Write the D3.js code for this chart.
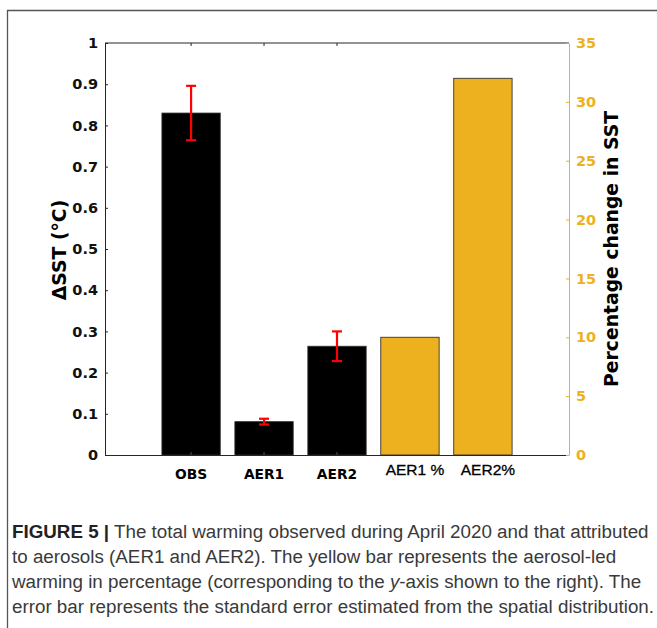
<!DOCTYPE html>
<html>
<head>
<meta charset="utf-8">
<script src="https://cdn.jsdelivr.net/npm/d3@7"></script>
<style>
  html, body { margin: 0; padding: 0; background: #fff; }
  svg { display: block; }
</style>
</head>
<body>
<div id="chart"></div>
<script>
// ---- data ----
const categories = ["OBS", "AER1", "AER2", "AER1 %", "AER2%"];
const sstCategories = ["OBS", "AER1", "AER2"];
const sstValues = [0.83, 0.081, 0.264];
const sstErrors = [0.066, 0.007, 0.036];
const pctCategories = ["AER1 %", "AER2%"];
const pctValues = [10.0, 32.0];
const leftTicks = [0, 0.1, 0.2, 0.3, 0.4, 0.5, 0.6, 0.7, 0.8, 0.9, 1];
const leftTickLabels = ["0", "0.1", "0.2", "0.3", "0.4", "0.5", "0.6", "0.7", "0.8", "0.9", "1"];
const rightTicks = [0, 5, 10, 15, 20, 25, 30, 35];
const leftLabel = "ΔSST (°C)";
const rightLabel = "Percentage change in SST";
const captionBold = "FIGURE 5 |";
const captionLines = [
  " The total warming observed during April 2020 and that attributed",
  "to aerosols (AER1 and AER2). The yellow bar represents the aerosol-led",
  ["warming in percentage (corresponding to the ", "y", "-axis shown to the right). The"],
  "error bar represents the standard error estimated from the spatial distribution."
];

// ---- layout ----
const W = 657, H = 628;
const plot = { left: 105, right: 569, top: 43, bottom: 455 };
const yellow = "#EDB120";
const axisCol = "#262626";

const svg = d3.select("#chart").append("svg").attr("width", W).attr("height", H);

// outer frame (extends beyond right & bottom)
svg.append("path")
  .attr("d", `M${W + 5},10.5 H7.5 V${H + 5}`)
  .attr("fill", "none").attr("stroke", "#555").attr("stroke-width", 1.3);

const x = d3.scaleBand().domain(categories)
  .range([plot.left, plot.right]).paddingInner(0.2).paddingOuter(0.78);
const yL = d3.scaleLinear().domain([0, 1]).range([plot.bottom, plot.top]);
const yR = d3.scaleLinear().domain([0, 35]).range([plot.bottom, plot.top]);

const g = svg.append("g");

// black bars
g.selectAll("rect.sst").data(sstValues).join("rect")
  .attr("class", "sst")
  .attr("x", (d, i) => x(sstCategories[i]))
  .attr("width", x.bandwidth())
  .attr("y", d => yL(d))
  .attr("height", d => yL(0) - yL(d))
  .attr("fill", "#000").attr("stroke", "#333").attr("stroke-width", 0.8);

// yellow bars
g.selectAll("rect.pct").data(pctValues).join("rect")
  .attr("class", "pct")
  .attr("x", (d, i) => x(pctCategories[i]))
  .attr("width", x.bandwidth())
  .attr("y", d => yR(d))
  .attr("height", d => yR(0) - yR(d))
  .attr("fill", yellow).attr("stroke", "#333").attr("stroke-width", 0.9);

// error bars
const eb = g.selectAll("g.err").data(sstValues).join("g").attr("class", "err")
  .attr("stroke", "#ff0000").attr("stroke-width", 2.2).attr("fill", "none");
eb.each(function (d, i) {
  const cx = x(sstCategories[i]) + x.bandwidth() / 2;
  const e = sstErrors[i];
  const s = d3.select(this);
  s.append("line").attr("x1", cx).attr("x2", cx).attr("y1", yL(d - e)).attr("y2", yL(d + e));
  s.append("line").attr("x1", cx - 5).attr("x2", cx + 5).attr("y1", yL(d - e)).attr("y2", yL(d - e));
  s.append("line").attr("x1", cx - 5).attr("x2", cx + 5).attr("y1", yL(d + e)).attr("y2", yL(d + e));
});

// box: top line
svg.append("line").attr("x1", plot.left).attr("x2", plot.right).attr("y1", plot.top).attr("y2", plot.top)
  .attr("stroke", axisCol).attr("stroke-width", 1);

// bottom axis (ticks at the first three categories, inward)
const xAxis = d3.axisBottom(x).tickValues(sstCategories).tickSize(-3).tickSizeOuter(0).tickFormat("");
svg.append("g").attr("transform", `translate(0,${plot.bottom})`).call(xAxis)
  .call(s => s.select(".domain").attr("stroke", axisCol).attr("d", `M${plot.left},0.5H${plot.right}`))
  .call(s => s.selectAll(".tick line").attr("stroke", "#555"));
const xAxisTop = d3.axisTop(x).tickValues(sstCategories).tickSize(-3).tickSizeOuter(0).tickFormat("");
svg.append("g").attr("transform", `translate(0,${plot.top})`).call(xAxisTop)
  .call(s => s.select(".domain").remove())
  .call(s => s.selectAll(".tick line").attr("stroke", axisCol));

// x tick labels
svg.append("g").selectAll("text").data(categories).join("text")
  .attr("x", (d, i) => x(d) + x.bandwidth() / 2 + (i >= 3 ? 5 : 0))
  .attr("y", (d, i) => i >= 3 ? 475 : 479)
  .attr("text-anchor", "middle")
  .attr("font-family", (d, i) => i >= 3 ? "'Liberation Sans', Arial, sans-serif" : "'DejaVu Sans', sans-serif")
  .attr("font-weight", (d, i) => i >= 3 ? "normal" : "bold")
  .attr("font-size", (d, i) => i >= 3 ? 15.5 : 13.8)
  .attr("stroke", (d, i) => i >= 3 ? "#000" : "none")
  .attr("stroke-width", 0.3)
  .attr("fill", "#000")
  .text(d => d);

// left axis
const yAxisL = d3.axisLeft(yL).tickValues(leftTicks).tickSize(-3).tickSizeOuter(0)
  .tickFormat((d, i) => leftTickLabels[i]).tickPadding(7);
svg.append("g").attr("transform", `translate(${plot.left},0)`).call(yAxisL)
  .call(s => s.select(".domain").attr("stroke", axisCol))
  .call(s => s.selectAll(".tick line").attr("stroke", axisCol))
  .call(s => s.selectAll(".tick text")
    .attr("font-family", "'DejaVu Sans', sans-serif").attr("font-weight", "bold")
    .attr("font-size", 14.5).attr("fill", "#111"));

// right axis
const yAxisR = d3.axisRight(yR).tickValues(rightTicks).tickSize(-3).tickSizeOuter(0).tickPadding(7);
svg.append("g").attr("transform", `translate(${plot.right},0)`).call(yAxisR)
  .call(s => s.select(".domain").attr("stroke", yellow))
  .call(s => s.selectAll(".tick line").attr("stroke", yellow))
  .call(s => s.selectAll(".tick text")
    .attr("font-family", "'DejaVu Sans', sans-serif").attr("font-weight", "bold")
    .attr("font-size", 14.5).attr("fill", yellow));

// axis labels
svg.append("text")
  .attr("transform", `translate(66,${(plot.top + plot.bottom) / 2 + 1}) rotate(-90)`)
  .attr("text-anchor", "middle")
  .attr("font-family", "'DejaVu Sans', sans-serif").attr("font-weight", "bold")
  .attr("font-size", 18.8).attr("fill", "#000")
  .text(leftLabel);
svg.append("text")
  .attr("transform", `translate(618,${(plot.top + plot.bottom) / 2}) rotate(-90)`)
  .attr("text-anchor", "middle")
  .attr("font-family", "'DejaVu Sans', sans-serif").attr("font-weight", "bold")
  .attr("font-size", 18.8).attr("fill", "#000")
  .text(rightLabel);

// caption
const cap = svg.append("g")
  .attr("font-family", "'Liberation Sans', Arial, sans-serif")
  .attr("font-size", 18.8).attr("fill", "#3a3a3a");
const baselines = [538, 563, 588, 613];
captionLines.forEach((line, i) => {
  const t = cap.append("text").attr("x", 12).attr("y", baselines[i]);
  if (i === 0) {
    t.append("tspan").attr("font-weight", "bold").attr("fill", "#222").text(captionBold);
    t.append("tspan").text(line);
  } else if (Array.isArray(line)) {
    t.append("tspan").text(line[0]);
    t.append("tspan").attr("font-style", "italic").text(line[1]);
    t.append("tspan").text(line[2]);
  } else {
    t.text(line);
  }
});
</script>
</body>
</html>
